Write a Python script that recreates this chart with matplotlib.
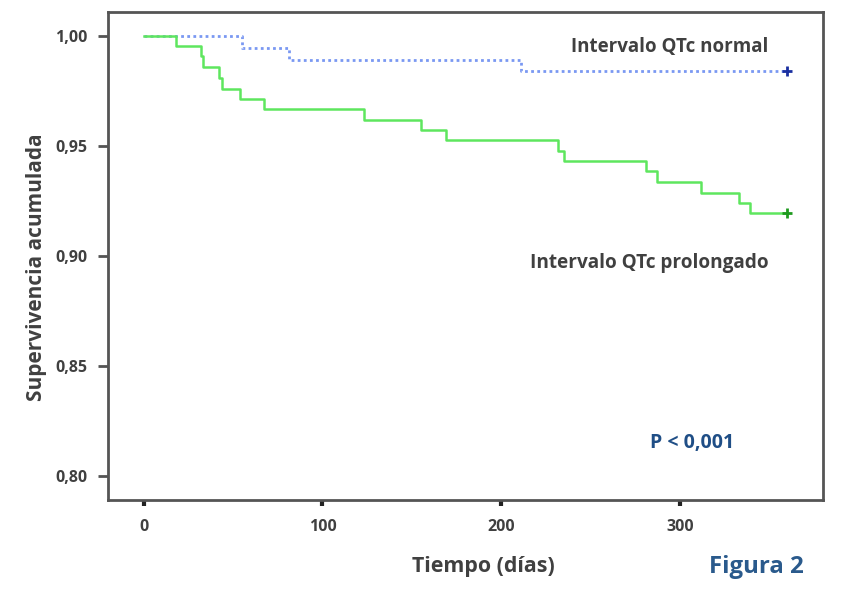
import matplotlib.pyplot as plt
import numpy as np

# Kaplan-Meier curves
t_prolongado = [0, 18, 32, 33, 42, 44, 54, 67, 123, 155, 169, 232, 235, 281, 287, 312, 333, 339, 360]
s_prolongado = [1.0, 0.9955, 0.9909, 0.9858, 0.9810, 0.9762, 0.9714, 0.9668, 0.9621, 0.9573,
                0.9527, 0.9480, 0.9432, 0.9385, 0.9338, 0.9288, 0.9242, 0.9194, 0.9194]
t_normal = [0, 55, 81, 211, 360]
s_normal = [1.0, 0.9947, 0.9894, 0.9841, 0.9841]

x_ticks = [0, 100, 200, 300]
y_ticks = [0.80, 0.85, 0.90, 0.95, 1.00]
y_ticklabels = ["0,80", "0,85", "0,90", "0,95", "1,00"]

plt.rcParams["font.family"] = ["Open Sans", "DejaVu Sans"]

fig = plt.figure(figsize=(8.64, 6.01), dpi=100)
ax = fig.add_axes([0.125, 0.168, 0.8275, 0.812])

ax.step(t_normal, s_normal, where="post", color="#7a98f2", lw=2, ls=(0, (1, 1.2)))
ax.step(t_prolongado, s_prolongado, where="post", color="#5ee65e", lw=1.8)
ax.plot(t_normal[-1], s_normal[-1], marker="+", color="#1a2fa0", ms=7, mew=2)
ax.plot(t_prolongado[-1], s_prolongado[-1], marker="+", color="#1f9a1f", ms=7, mew=2)

ax.set_xlim(-20, 380)
ax.set_ylim(0.789, 1.011)
ax.set_xticks(x_ticks)
ax.set_yticks(y_ticks)
ax.set_yticklabels(y_ticklabels)
for s in ax.spines.values():
    s.set_color("#555555")
    s.set_linewidth(2)
ax.tick_params(axis="y", length=7, width=2, color="#555555", labelsize=11.5, labelcolor="#404040", pad=8)
ax.tick_params(axis="x", length=4, width=3, color="#222222", labelsize=11.5, labelcolor="#404040", pad=10)
for lab in ax.get_xticklabels() + ax.get_yticklabels():
    lab.set_fontweight("bold")

ax.text(294, 0.995, "Intervalo QTc normal", fontsize=13.5, fontweight="bold", color="#404040", ha="center", va="center")
ax.text(283, 0.8968, "Intervalo QTc prolongado", fontsize=13.7, fontweight="bold", color="#404040", ha="center", va="center")
ax.text(307, 0.815, "P < 0,001", fontsize=14, fontweight="bold", color="#1f4e86", ha="center", va="center")

fig.text(0.559, 0.057, "Tiempo (días)", fontsize=15.4, fontweight="bold", color="#404040", ha="center", va="center")
fig.text(0.8756, 0.057, "Figura 2", fontsize=17.3, fontweight="bold", color="#2a5a8c", ha="center", va="center")
fig.text(0.042, 0.555, "Supervivencia acumulada", fontsize=15, fontweight="bold", color="#404040",
         ha="center", va="center", rotation=90)

fig.savefig("out.png", dpi=100)
